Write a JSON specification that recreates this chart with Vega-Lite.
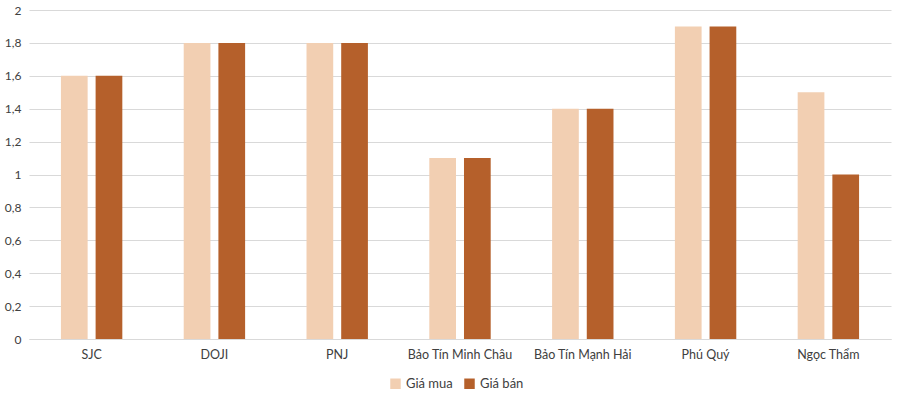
{
  "$schema": "https://vega.github.io/schema/vega-lite/v6.json",
  "width": 900,
  "height": 401,
  "autosize": {"type": "fit", "contains": "padding"},
  "padding": {"top": 4, "left": 4, "right": 9, "bottom": 40},
  "background": "white",
  "config": {
    "font": "Lato",
    "view": {"stroke": null},
    "axis": {"labelFont": "Lato", "labelColor": "#404040"},
    "legend": {"labelFont": "Lato", "labelFontSize": 13, "labelColor": "#404040"}
  },
  "data": {
    "values": [
      {"brand": "SJC", "series": "Giá mua", "value": 1.6},
      {"brand": "SJC", "series": "Giá bán", "value": 1.6},
      {"brand": "DOJI", "series": "Giá mua", "value": 1.8},
      {"brand": "DOJI", "series": "Giá bán", "value": 1.8},
      {"brand": "PNJ", "series": "Giá mua", "value": 1.8},
      {"brand": "PNJ", "series": "Giá bán", "value": 1.8},
      {"brand": "Bảo Tín Minh Châu", "series": "Giá mua", "value": 1.1},
      {"brand": "Bảo Tín Minh Châu", "series": "Giá bán", "value": 1.1},
      {"brand": "Bảo Tín Mạnh Hải", "series": "Giá mua", "value": 1.4},
      {"brand": "Bảo Tín Mạnh Hải", "series": "Giá bán", "value": 1.4},
      {"brand": "Phú Quý", "series": "Giá mua", "value": 1.9},
      {"brand": "Phú Quý", "series": "Giá bán", "value": 1.9},
      {"brand": "Ngọc Thẩm", "series": "Giá mua", "value": 1.5},
      {"brand": "Ngọc Thẩm", "series": "Giá bán", "value": 1.0}
    ]
  },
  "mark": {"type": "bar"},
  "encoding": {
    "x": {
      "field": "brand",
      "type": "nominal",
      "sort": null,
      "title": null,
      "scale": {"paddingInner": 0.5, "paddingOuter": 0.26},
      "axis": {"labelAngle": 0, "ticks": false, "domainColor": "#d9d9d9", "labelPadding": 9, "labelFontSize": 12.5}
    },
    "xOffset": {
      "field": "series",
      "type": "nominal",
      "sort": ["Giá mua", "Giá bán"],
      "scale": {"paddingInner": 0.23}
    },
    "y": {
      "field": "value",
      "type": "quantitative",
      "title": null,
      "scale": {"domain": [0, 2]},
      "axis": {
        "values": [0, 0.2, 0.4, 0.6, 0.8, 1, 1.2, 1.4, 1.6, 1.8, 2],
        "labelExpr": "replace(format(datum.value, '~g'), '.', ',')",
        "domain": false,
        "ticks": false,
        "gridColor": "#d9d9d9",
        "labelPadding": 8,
        "labelFontSize": 12
      }
    },
    "color": {
      "field": "series",
      "type": "nominal",
      "sort": ["Giá mua", "Giá bán"],
      "scale": {"domain": ["Giá mua", "Giá bán"], "range": ["#F2CFB2", "#B5602B"]},
      "legend": {"orient": "none", "legendX": 360, "legendY": 367, "title": null, "direction": "horizontal", "symbolType": "square", "symbolSize": 110, "symbolStrokeWidth": 0, "columnPadding": 10}
    }
  }
}
